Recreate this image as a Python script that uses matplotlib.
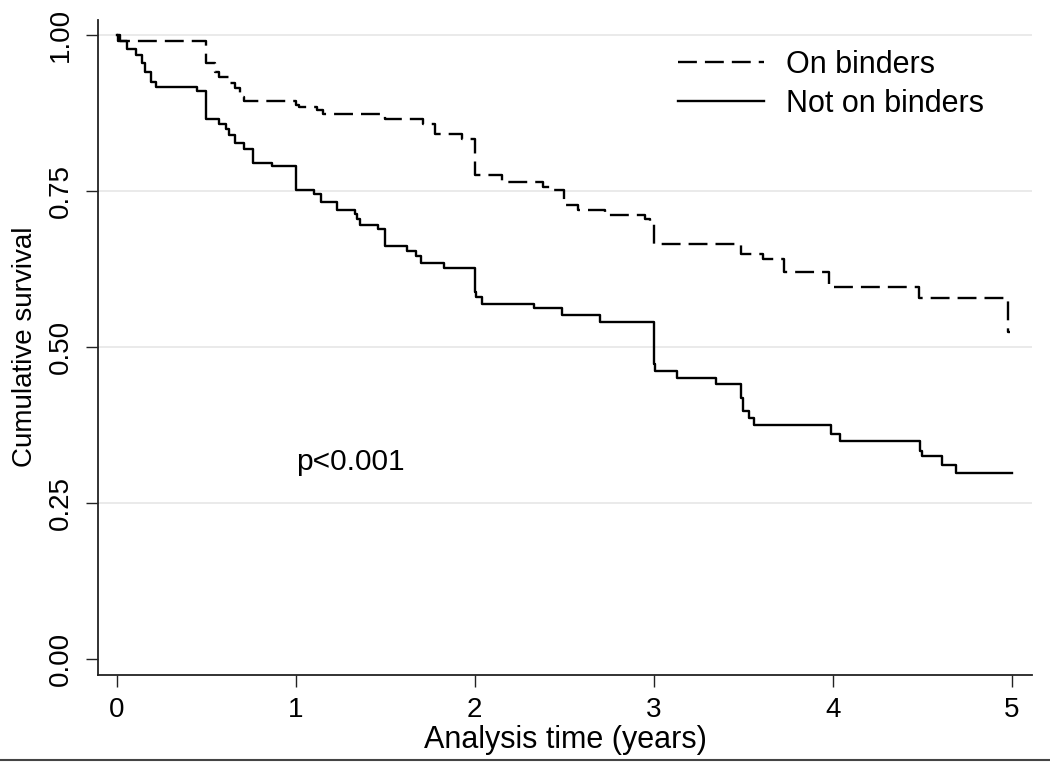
import matplotlib
matplotlib.use("Agg")
import matplotlib.pyplot as plt
from matplotlib.lines import Line2D

plt.rcParams['font.family'] = ['Liberation Sans', 'DejaVu Sans']

# On binders (dashed) - Kaplan-Meier steps
on_t = [0.00, 0.02, 0.50, 0.55, 0.57, 0.63, 0.66, 0.69, 0.71, 1.00, 1.02, 1.12, 1.15,
        1.50, 1.71, 1.78, 1.93, 2.00, 2.15, 2.38, 2.44, 2.50, 2.58, 2.73, 2.95, 2.98,
        3.00, 3.49, 3.61, 3.73, 3.98, 4.48, 4.98, 4.99]
on_s = [1.000, 0.991, 0.955, 0.941, 0.933, 0.923, 0.915, 0.901, 0.895, 0.888, 0.885, 0.880, 0.873,
        0.865, 0.857, 0.842, 0.834, 0.776, 0.764, 0.757, 0.751, 0.727, 0.720, 0.712, 0.705, 0.697,
        0.665, 0.649, 0.641, 0.620, 0.596, 0.579, 0.524, 0.524]

# Not on binders (solid)
not_t = [0.00, 0.01, 0.06, 0.11, 0.14, 0.16, 0.19, 0.22, 0.45, 0.50, 0.57, 0.61, 0.63, 0.66,
         0.71, 0.76, 0.87, 1.00, 1.10, 1.14, 1.23, 1.33, 1.34, 1.36, 1.46, 1.50, 1.62, 1.67,
         1.70, 1.83, 2.00, 2.01, 2.04, 2.33, 2.49, 2.70, 3.00, 3.01, 3.13, 3.35, 3.49, 3.50,
         3.53, 3.56, 3.99, 4.04, 4.49, 4.50, 4.61, 4.69, 5.00]
not_s = [1.000, 0.991, 0.977, 0.968, 0.955, 0.940, 0.925, 0.916, 0.910, 0.865, 0.858, 0.850, 0.840, 0.827,
         0.818, 0.795, 0.790, 0.752, 0.746, 0.733, 0.720, 0.713, 0.705, 0.696, 0.689, 0.662, 0.654, 0.646,
         0.634, 0.626, 0.588, 0.581, 0.569, 0.562, 0.552, 0.541, 0.473, 0.462, 0.451, 0.441, 0.419, 0.398,
         0.387, 0.375, 0.361, 0.350, 0.334, 0.325, 0.312, 0.299, 0.299]

x_ticks = [0, 1, 2, 3, 4, 5]
y_ticks = [0.00, 0.25, 0.50, 0.75, 1.00]
y_ticklabels = ["0.00", "0.25", "0.50", "0.75", "1.00"]
grid_levels = [0.25, 0.50, 0.75, 1.00]

W, H = 1050, 767
fig = plt.figure(figsize=(W / 100, H / 100), dpi=100)
ax = fig.add_axes([97.7 / W, 1 - 675 / H, (1031.7 - 97.7) / W, (675 - 20) / H])

for g in grid_levels:
    ax.axhline(g, color='#e6e6e6', lw=1.2, zorder=0)

lw = 1.7
ax.step(on_t, on_s, where='post', color='black', lw=lw, linestyle=(0, (8.0, 3.4)),
        label='On binders')
ax.step(not_t, not_s, where='post', color='black', lw=lw, linestyle='-',
        label='Not on binders')

ax.set_xlim(-0.106, 5.112)
ax.set_ylim(-0.0251, 1.024)
ax.set_xticks(x_ticks)
ax.set_xticklabels([str(v) for v in x_ticks])
ax.set_yticks(y_ticks)
ax.set_yticklabels(y_ticklabels)

for s in ['top', 'right']:
    ax.spines[s].set_visible(False)
for s in ['left', 'bottom']:
    ax.spines[s].set_linewidth(1.3)
    ax.spines[s].set_color('#222222')

ax.tick_params(axis='both', direction='out', length=8.5, width=1.0, colors='#222222',
               labelsize=20, labelcolor='black')
ax.tick_params(axis='y', pad=9)
ax.tick_params(axis='x', pad=7)
for lab in ax.get_yticklabels():
    lab.set_rotation(90)
    lab.set_va('center')
    lab.set_ha('right')

fig.text(25 / W, 1 - 347 / H, 'Cumulative survival', rotation=90, fontsize=20,
         ha='center', va='center')
fig.text(565 / W, 1 - 740 / H, 'Analysis time (years)', fontsize=22,
         ha='center', va='center')

ax.text(1.005, 0.316, 'p<0.001', fontsize=21.5, ha='left', va='center')

leg = ax.legend(loc='upper left', bbox_to_anchor=(678 / W, 1 - 50 / H),
                bbox_transform=fig.transFigure, frameon=False, fontsize=22,
                handlelength=2.8, handletextpad=0.72, borderpad=0, borderaxespad=0,
                labelspacing=0.28)

fig.add_artist(Line2D([0, 1], [1 - 760 / H, 1 - 760 / H], transform=fig.transFigure,
                      color='#444444', lw=1.5))

fig.savefig('out.png', dpi=100)
